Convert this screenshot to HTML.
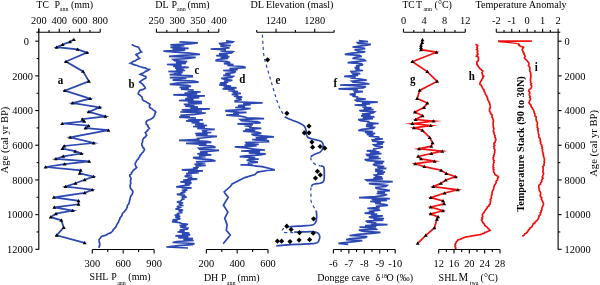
<!DOCTYPE html>
<html><head><meta charset="utf-8"><style>
html,body{margin:0;padding:0;background:#fff;overflow:hidden;}
svg{display:block;}
text{font-family:"Liberation Serif", serif;fill:#000;}
svg{will-change:transform;}
</style></head><body>
<svg width="600" height="285" viewBox="0 0 600 285">
<rect width="600" height="285" fill="#fff"/>
<line x1="38.80" y1="28.50" x2="38.80" y2="249.80" stroke="#000" stroke-width="1.1"/>
<line x1="36.30" y1="32.20" x2="38.80" y2="32.20" stroke="#000" stroke-width="1.1"/>
<line x1="35.30" y1="41.20" x2="38.80" y2="41.20" stroke="#000" stroke-width="1.1"/>
<text transform="translate(29.00,44.90) scale(1,1.07)" font-size="10.4" text-anchor="end" font-weight="normal" >0</text>
<line x1="36.60" y1="58.54" x2="38.80" y2="58.54" stroke="#000" stroke-width="1.1"/>
<line x1="35.30" y1="75.88" x2="38.80" y2="75.88" stroke="#000" stroke-width="1.1"/>
<text transform="translate(33.00,79.58) scale(1,1.07)" font-size="10.4" text-anchor="end" font-weight="normal" >2000</text>
<line x1="36.60" y1="93.23" x2="38.80" y2="93.23" stroke="#000" stroke-width="1.1"/>
<line x1="35.30" y1="110.57" x2="38.80" y2="110.57" stroke="#000" stroke-width="1.1"/>
<text transform="translate(33.00,114.27) scale(1,1.07)" font-size="10.4" text-anchor="end" font-weight="normal" >4000</text>
<line x1="36.60" y1="127.91" x2="38.80" y2="127.91" stroke="#000" stroke-width="1.1"/>
<line x1="35.30" y1="145.25" x2="38.80" y2="145.25" stroke="#000" stroke-width="1.1"/>
<text transform="translate(33.00,148.95) scale(1,1.07)" font-size="10.4" text-anchor="end" font-weight="normal" >6000</text>
<line x1="36.60" y1="162.59" x2="38.80" y2="162.59" stroke="#000" stroke-width="1.1"/>
<line x1="35.30" y1="179.93" x2="38.80" y2="179.93" stroke="#000" stroke-width="1.1"/>
<text transform="translate(33.00,183.63) scale(1,1.07)" font-size="10.4" text-anchor="end" font-weight="normal" >8000</text>
<line x1="36.60" y1="197.28" x2="38.80" y2="197.28" stroke="#000" stroke-width="1.1"/>
<line x1="35.30" y1="214.62" x2="38.80" y2="214.62" stroke="#000" stroke-width="1.1"/>
<text transform="translate(33.00,218.32) scale(1,1.07)" font-size="10.4" text-anchor="end" font-weight="normal" >10000</text>
<line x1="36.60" y1="231.96" x2="38.80" y2="231.96" stroke="#000" stroke-width="1.1"/>
<line x1="35.30" y1="249.30" x2="38.80" y2="249.30" stroke="#000" stroke-width="1.1"/>
<text transform="translate(33.00,253.00) scale(1,1.07)" font-size="10.4" text-anchor="end" font-weight="normal" >12000</text>
<text transform="translate(7.9,140) rotate(-90)" font-size="10.6" text-anchor="middle">Age (cal yr BP)</text>
<line x1="558.10" y1="32.20" x2="558.10" y2="249.80" stroke="#000" stroke-width="1.1"/>
<line x1="558.10" y1="32.20" x2="560.30" y2="32.20" stroke="#000" stroke-width="1.1"/>
<line x1="558.10" y1="41.20" x2="561.60" y2="41.20" stroke="#000" stroke-width="1.1"/>
<text transform="translate(564.60,44.90) scale(1,1.07)" font-size="10.4" text-anchor="start" font-weight="normal" >0</text>
<line x1="558.10" y1="58.54" x2="560.30" y2="58.54" stroke="#000" stroke-width="1.1"/>
<line x1="558.10" y1="75.88" x2="561.60" y2="75.88" stroke="#000" stroke-width="1.1"/>
<text transform="translate(564.60,79.58) scale(1,1.07)" font-size="10.4" text-anchor="start" font-weight="normal" >2000</text>
<line x1="558.10" y1="93.23" x2="560.30" y2="93.23" stroke="#000" stroke-width="1.1"/>
<line x1="558.10" y1="110.57" x2="561.60" y2="110.57" stroke="#000" stroke-width="1.1"/>
<text transform="translate(564.60,114.27) scale(1,1.07)" font-size="10.4" text-anchor="start" font-weight="normal" >4000</text>
<line x1="558.10" y1="127.91" x2="560.30" y2="127.91" stroke="#000" stroke-width="1.1"/>
<line x1="558.10" y1="145.25" x2="561.60" y2="145.25" stroke="#000" stroke-width="1.1"/>
<text transform="translate(564.60,148.95) scale(1,1.07)" font-size="10.4" text-anchor="start" font-weight="normal" >6000</text>
<line x1="558.10" y1="162.59" x2="560.30" y2="162.59" stroke="#000" stroke-width="1.1"/>
<line x1="558.10" y1="179.93" x2="561.60" y2="179.93" stroke="#000" stroke-width="1.1"/>
<text transform="translate(564.60,183.63) scale(1,1.07)" font-size="10.4" text-anchor="start" font-weight="normal" >8000</text>
<line x1="558.10" y1="197.28" x2="560.30" y2="197.28" stroke="#000" stroke-width="1.1"/>
<line x1="558.10" y1="214.62" x2="561.60" y2="214.62" stroke="#000" stroke-width="1.1"/>
<text transform="translate(564.60,218.32) scale(1,1.07)" font-size="10.4" text-anchor="start" font-weight="normal" >10000</text>
<line x1="558.10" y1="231.96" x2="560.30" y2="231.96" stroke="#000" stroke-width="1.1"/>
<line x1="558.10" y1="249.30" x2="561.60" y2="249.30" stroke="#000" stroke-width="1.1"/>
<text transform="translate(564.60,253.00) scale(1,1.07)" font-size="10.4" text-anchor="start" font-weight="normal" >12000</text>
<text transform="translate(597.4,143.4) rotate(-90)" font-size="10.6" text-anchor="middle">Age (cal yr BP)</text>
<line x1="38.80" y1="32.20" x2="100.20" y2="32.20" stroke="#000" stroke-width="1.1"/>
<line x1="38.80" y1="28.70" x2="38.80" y2="32.20" stroke="#000" stroke-width="1.1"/>
<line x1="49.03" y1="30.00" x2="49.03" y2="32.20" stroke="#000" stroke-width="1.1"/>
<line x1="59.27" y1="28.70" x2="59.27" y2="32.20" stroke="#000" stroke-width="1.1"/>
<line x1="69.50" y1="30.00" x2="69.50" y2="32.20" stroke="#000" stroke-width="1.1"/>
<line x1="79.73" y1="28.70" x2="79.73" y2="32.20" stroke="#000" stroke-width="1.1"/>
<line x1="89.97" y1="30.00" x2="89.97" y2="32.20" stroke="#000" stroke-width="1.1"/>
<line x1="100.20" y1="28.70" x2="100.20" y2="32.20" stroke="#000" stroke-width="1.1"/>
<text transform="translate(38.80,23.90) scale(1,1.07)" font-size="10.4" text-anchor="middle" font-weight="normal" >200</text>
<text transform="translate(59.27,23.90) scale(1,1.07)" font-size="10.4" text-anchor="middle" font-weight="normal" >400</text>
<text transform="translate(79.73,23.90) scale(1,1.07)" font-size="10.4" text-anchor="middle" font-weight="normal" >600</text>
<text transform="translate(100.20,23.90) scale(1,1.07)" font-size="10.4" text-anchor="middle" font-weight="normal" >800</text>
<line x1="156.40" y1="32.20" x2="218.80" y2="32.20" stroke="#000" stroke-width="1.1"/>
<line x1="156.40" y1="28.70" x2="156.40" y2="32.20" stroke="#000" stroke-width="1.1"/>
<line x1="166.80" y1="30.00" x2="166.80" y2="32.20" stroke="#000" stroke-width="1.1"/>
<line x1="177.20" y1="28.70" x2="177.20" y2="32.20" stroke="#000" stroke-width="1.1"/>
<line x1="187.60" y1="30.00" x2="187.60" y2="32.20" stroke="#000" stroke-width="1.1"/>
<line x1="198.00" y1="28.70" x2="198.00" y2="32.20" stroke="#000" stroke-width="1.1"/>
<line x1="208.40" y1="30.00" x2="208.40" y2="32.20" stroke="#000" stroke-width="1.1"/>
<line x1="218.80" y1="28.70" x2="218.80" y2="32.20" stroke="#000" stroke-width="1.1"/>
<text transform="translate(156.40,23.90) scale(1,1.07)" font-size="10.4" text-anchor="middle" font-weight="normal" >250</text>
<text transform="translate(177.20,23.90) scale(1,1.07)" font-size="10.4" text-anchor="middle" font-weight="normal" >300</text>
<text transform="translate(198.00,23.90) scale(1,1.07)" font-size="10.4" text-anchor="middle" font-weight="normal" >350</text>
<text transform="translate(218.80,23.90) scale(1,1.07)" font-size="10.4" text-anchor="middle" font-weight="normal" >400</text>
<line x1="256.70" y1="32.20" x2="334.10" y2="32.20" stroke="#000" stroke-width="1.1"/>
<line x1="256.70" y1="30.00" x2="256.70" y2="32.20" stroke="#000" stroke-width="1.1"/>
<line x1="276.05" y1="28.70" x2="276.05" y2="32.20" stroke="#000" stroke-width="1.1"/>
<line x1="295.40" y1="30.00" x2="295.40" y2="32.20" stroke="#000" stroke-width="1.1"/>
<line x1="314.75" y1="28.70" x2="314.75" y2="32.20" stroke="#000" stroke-width="1.1"/>
<line x1="334.10" y1="30.00" x2="334.10" y2="32.20" stroke="#000" stroke-width="1.1"/>
<text transform="translate(276.05,23.90) scale(1,1.07)" font-size="10.4" text-anchor="middle" font-weight="normal" >1240</text>
<text transform="translate(314.75,23.90) scale(1,1.07)" font-size="10.4" text-anchor="middle" font-weight="normal" >1280</text>
<line x1="403.50" y1="32.20" x2="465.30" y2="32.20" stroke="#000" stroke-width="1.1"/>
<line x1="403.50" y1="28.70" x2="403.50" y2="32.20" stroke="#000" stroke-width="1.1"/>
<line x1="413.80" y1="30.00" x2="413.80" y2="32.20" stroke="#000" stroke-width="1.1"/>
<line x1="424.10" y1="28.70" x2="424.10" y2="32.20" stroke="#000" stroke-width="1.1"/>
<line x1="434.40" y1="30.00" x2="434.40" y2="32.20" stroke="#000" stroke-width="1.1"/>
<line x1="444.70" y1="28.70" x2="444.70" y2="32.20" stroke="#000" stroke-width="1.1"/>
<line x1="455.00" y1="30.00" x2="455.00" y2="32.20" stroke="#000" stroke-width="1.1"/>
<line x1="465.30" y1="28.70" x2="465.30" y2="32.20" stroke="#000" stroke-width="1.1"/>
<text transform="translate(403.50,23.90) scale(1,1.07)" font-size="10.4" text-anchor="middle" font-weight="normal" >0</text>
<text transform="translate(424.10,23.90) scale(1,1.07)" font-size="10.4" text-anchor="middle" font-weight="normal" >4</text>
<text transform="translate(444.70,23.90) scale(1,1.07)" font-size="10.4" text-anchor="middle" font-weight="normal" >8</text>
<text transform="translate(465.30,23.90) scale(1,1.07)" font-size="10.4" text-anchor="middle" font-weight="normal" >12</text>
<line x1="496.30" y1="32.20" x2="558.10" y2="32.20" stroke="#000" stroke-width="1.1"/>
<line x1="496.30" y1="28.70" x2="496.30" y2="32.20" stroke="#000" stroke-width="1.1"/>
<line x1="504.03" y1="30.00" x2="504.03" y2="32.20" stroke="#000" stroke-width="1.1"/>
<line x1="511.75" y1="28.70" x2="511.75" y2="32.20" stroke="#000" stroke-width="1.1"/>
<line x1="519.48" y1="30.00" x2="519.48" y2="32.20" stroke="#000" stroke-width="1.1"/>
<line x1="527.20" y1="28.70" x2="527.20" y2="32.20" stroke="#000" stroke-width="1.1"/>
<line x1="534.93" y1="30.00" x2="534.93" y2="32.20" stroke="#000" stroke-width="1.1"/>
<line x1="542.65" y1="28.70" x2="542.65" y2="32.20" stroke="#000" stroke-width="1.1"/>
<line x1="550.38" y1="30.00" x2="550.38" y2="32.20" stroke="#000" stroke-width="1.1"/>
<line x1="558.10" y1="28.70" x2="558.10" y2="32.20" stroke="#000" stroke-width="1.1"/>
<text transform="translate(496.30,23.90) scale(1,1.07)" font-size="10.4" text-anchor="middle" font-weight="normal" >-2</text>
<text transform="translate(511.75,23.90) scale(1,1.07)" font-size="10.4" text-anchor="middle" font-weight="normal" >-1</text>
<text transform="translate(527.20,23.90) scale(1,1.07)" font-size="10.4" text-anchor="middle" font-weight="normal" >0</text>
<text transform="translate(542.65,23.90) scale(1,1.07)" font-size="10.4" text-anchor="middle" font-weight="normal" >1</text>
<text transform="translate(558.10,23.90) scale(1,1.07)" font-size="10.4" text-anchor="middle" font-weight="normal" >2</text>
<line x1="92.30" y1="249.50" x2="154.10" y2="249.50" stroke="#000" stroke-width="1.1"/>
<line x1="92.30" y1="249.50" x2="92.30" y2="253.40" stroke="#000" stroke-width="1.1"/>
<line x1="107.75" y1="249.50" x2="107.75" y2="251.90" stroke="#000" stroke-width="1.1"/>
<line x1="123.20" y1="249.50" x2="123.20" y2="253.40" stroke="#000" stroke-width="1.1"/>
<line x1="138.65" y1="249.50" x2="138.65" y2="251.90" stroke="#000" stroke-width="1.1"/>
<line x1="154.10" y1="249.50" x2="154.10" y2="253.40" stroke="#000" stroke-width="1.1"/>
<text transform="translate(92.30,267.00) scale(1,1.07)" font-size="10.4" text-anchor="middle" font-weight="normal" >300</text>
<text transform="translate(123.20,267.00) scale(1,1.07)" font-size="10.4" text-anchor="middle" font-weight="normal" >600</text>
<text transform="translate(154.10,267.00) scale(1,1.07)" font-size="10.4" text-anchor="middle" font-weight="normal" >900</text>
<line x1="206.40" y1="249.50" x2="268.00" y2="249.50" stroke="#000" stroke-width="1.1"/>
<line x1="206.40" y1="249.50" x2="206.40" y2="253.40" stroke="#000" stroke-width="1.1"/>
<line x1="221.80" y1="249.50" x2="221.80" y2="251.90" stroke="#000" stroke-width="1.1"/>
<line x1="237.20" y1="249.50" x2="237.20" y2="253.40" stroke="#000" stroke-width="1.1"/>
<line x1="252.60" y1="249.50" x2="252.60" y2="251.90" stroke="#000" stroke-width="1.1"/>
<line x1="268.00" y1="249.50" x2="268.00" y2="253.40" stroke="#000" stroke-width="1.1"/>
<text transform="translate(206.40,267.00) scale(1,1.07)" font-size="10.4" text-anchor="middle" font-weight="normal" >200</text>
<text transform="translate(237.20,267.00) scale(1,1.07)" font-size="10.4" text-anchor="middle" font-weight="normal" >400</text>
<text transform="translate(268.00,267.00) scale(1,1.07)" font-size="10.4" text-anchor="middle" font-weight="normal" >600</text>
<line x1="333.40" y1="249.50" x2="395.20" y2="249.50" stroke="#000" stroke-width="1.1"/>
<line x1="333.40" y1="249.50" x2="333.40" y2="253.40" stroke="#000" stroke-width="1.1"/>
<line x1="341.12" y1="249.50" x2="341.12" y2="251.90" stroke="#000" stroke-width="1.1"/>
<line x1="348.85" y1="249.50" x2="348.85" y2="253.40" stroke="#000" stroke-width="1.1"/>
<line x1="356.57" y1="249.50" x2="356.57" y2="251.90" stroke="#000" stroke-width="1.1"/>
<line x1="364.30" y1="249.50" x2="364.30" y2="253.40" stroke="#000" stroke-width="1.1"/>
<line x1="372.02" y1="249.50" x2="372.02" y2="251.90" stroke="#000" stroke-width="1.1"/>
<line x1="379.75" y1="249.50" x2="379.75" y2="253.40" stroke="#000" stroke-width="1.1"/>
<line x1="387.47" y1="249.50" x2="387.47" y2="251.90" stroke="#000" stroke-width="1.1"/>
<line x1="395.20" y1="249.50" x2="395.20" y2="253.40" stroke="#000" stroke-width="1.1"/>
<text transform="translate(333.40,267.00) scale(1,1.07)" font-size="10.4" text-anchor="middle" font-weight="normal" >-6</text>
<text transform="translate(348.85,267.00) scale(1,1.07)" font-size="10.4" text-anchor="middle" font-weight="normal" >-7</text>
<text transform="translate(364.30,267.00) scale(1,1.07)" font-size="10.4" text-anchor="middle" font-weight="normal" >-8</text>
<text transform="translate(379.75,267.00) scale(1,1.07)" font-size="10.4" text-anchor="middle" font-weight="normal" >-9</text>
<text transform="translate(395.20,267.00) scale(1,1.07)" font-size="10.4" text-anchor="middle" font-weight="normal" >-10</text>
<line x1="438.70" y1="249.50" x2="500.00" y2="249.50" stroke="#000" stroke-width="1.1"/>
<line x1="438.70" y1="249.50" x2="438.70" y2="253.40" stroke="#000" stroke-width="1.1"/>
<line x1="446.36" y1="249.50" x2="446.36" y2="251.90" stroke="#000" stroke-width="1.1"/>
<line x1="454.02" y1="249.50" x2="454.02" y2="253.40" stroke="#000" stroke-width="1.1"/>
<line x1="461.69" y1="249.50" x2="461.69" y2="251.90" stroke="#000" stroke-width="1.1"/>
<line x1="469.35" y1="249.50" x2="469.35" y2="253.40" stroke="#000" stroke-width="1.1"/>
<line x1="477.01" y1="249.50" x2="477.01" y2="251.90" stroke="#000" stroke-width="1.1"/>
<line x1="484.68" y1="249.50" x2="484.68" y2="253.40" stroke="#000" stroke-width="1.1"/>
<line x1="492.34" y1="249.50" x2="492.34" y2="251.90" stroke="#000" stroke-width="1.1"/>
<line x1="500.00" y1="249.50" x2="500.00" y2="253.40" stroke="#000" stroke-width="1.1"/>
<text transform="translate(438.70,267.00) scale(1,1.07)" font-size="10.4" text-anchor="middle" font-weight="normal" >12</text>
<text transform="translate(454.02,267.00) scale(1,1.07)" font-size="10.4" text-anchor="middle" font-weight="normal" >16</text>
<text transform="translate(469.35,267.00) scale(1,1.07)" font-size="10.4" text-anchor="middle" font-weight="normal" >20</text>
<text transform="translate(484.68,267.00) scale(1,1.07)" font-size="10.4" text-anchor="middle" font-weight="normal" >24</text>
<text transform="translate(500.00,267.00) scale(1,1.07)" font-size="10.4" text-anchor="middle" font-weight="normal" >28</text>
<text transform="translate(36.60,7.80) scale(1,1.07)" font-size="9.6">TC</text>
<text transform="translate(54.60,7.80) scale(1,1.07)" font-size="10">P</text>
<text transform="translate(59.80,11.00) scale(1,1.07)" font-size="6.0">ann</text>
<text transform="translate(71.00,7.80) scale(1,1.07)" font-size="10">(mm)</text>
<text transform="translate(155.20,7.80) scale(1,1.07)" font-size="10">DL</text>
<text transform="translate(171.40,7.80) scale(1,1.07)" font-size="10">P</text>
<text transform="translate(177.00,11.00) scale(1,1.07)" font-size="6.0">ann</text>
<text transform="translate(187.40,7.80) scale(1,1.07)" font-size="10">(mm)</text>
<text transform="translate(250.40,7.80) scale(1,1.07)" font-size="10.15">DL Elevation (masl)</text>
<text transform="translate(402.40,7.80) scale(1,1.07)" font-size="9.6">TC</text>
<text transform="translate(416.00,7.80) scale(1,1.07)" font-size="10">T</text>
<text transform="translate(423.40,11.00) scale(1,1.07)" font-size="6.0">ann</text>
<text transform="translate(434.60,7.80) scale(1,1.07)" font-size="10">(°C)</text>
<text transform="translate(475.40,7.80) scale(1,1.07)" font-size="10.2">Temperature Anomaly</text>
<text transform="translate(89.60,280.20) scale(1,1.07)" font-size="10">SHL</text>
<text transform="translate(111.30,280.20) scale(1,1.07)" font-size="10">P</text>
<text transform="translate(117.20,284.60) scale(1,1.07)" font-size="6.0">ann</text>
<text transform="translate(128.30,280.20) scale(1,1.07)" font-size="10">(mm)</text>
<text transform="translate(203.90,281.20) scale(1,1.07)" font-size="10">DH</text>
<text transform="translate(220.90,281.20) scale(1,1.07)" font-size="10">P</text>
<text transform="translate(226.80,284.80) scale(1,1.07)" font-size="6.0">ann</text>
<text transform="translate(237.50,281.20) scale(1,1.07)" font-size="10">(mm)</text>
<text transform="translate(317.30,281.20) scale(1,1.07)" font-size="10">Dongge cave</text>
<text transform="translate(375.60,281.20) scale(1,1.07)" font-size="10">δ</text>
<text transform="translate(381.00,277.60) scale(1,1.07)" font-size="6">18</text>
<text transform="translate(386.40,281.20) scale(1,1.07)" font-size="10">O</text>
<text transform="translate(396.40,281.20) scale(1,1.07)" font-size="10">(‰)</text>
<text transform="translate(438.60,281.20) scale(1,1.07)" font-size="10">SHL</text>
<text transform="translate(458.60,281.20) scale(1,1.07)" font-size="10.8">M</text>
<text transform="translate(469.80,284.80) scale(1,1.07)" font-size="6.0">twa</text>
<text transform="translate(480.60,281.20) scale(1,1.07)" font-size="10">(°C)</text>
<polyline points="73.90,39.50 70.00,41.80 62.60,44.60 56.70,47.20 77.60,49.40 87.00,52.60 66.00,61.50 83.00,71.40 88.90,81.40 64.90,90.60 90.10,98.60 72.60,103.10 99.70,107.40 88.80,111.90 105.30,116.40 82.40,119.20 84.20,121.30 62.20,123.50 88.50,125.70 85.60,128.10 108.50,130.20 70.20,137.30 93.60,143.00 64.20,146.00 62.50,148.60 75.10,151.20 81.20,153.50 63.20,156.30 55.90,158.90 89.20,161.40 64.60,164.10 45.60,167.00 80.70,170.30 79.70,173.40 93.40,176.60 84.70,179.80 75.50,183.30 65.60,186.60 92.20,189.70 84.70,192.80 53.90,197.30 78.50,200.80 78.50,204.30 54.30,207.30 72.70,210.60 56.00,213.70 50.80,217.10 61.30,220.30 63.70,227.60 56.60,235.30 84.70,242.90" fill="none" stroke="#2a47b2" stroke-width="1.75" stroke-linejoin="miter" stroke-miterlimit="6" stroke-linecap="butt" />
<path d="M73.90,37.70 L75.88,40.94 L71.92,40.94Z" fill="#000"/>
<path d="M70.00,40.00 L71.98,43.24 L68.02,43.24Z" fill="#000"/>
<path d="M62.60,42.80 L64.58,46.04 L60.62,46.04Z" fill="#000"/>
<path d="M56.70,45.40 L58.68,48.64 L54.72,48.64Z" fill="#000"/>
<path d="M77.60,47.60 L79.58,50.84 L75.62,50.84Z" fill="#000"/>
<path d="M87.00,50.80 L88.98,54.04 L85.02,54.04Z" fill="#000"/>
<path d="M66.00,59.70 L67.98,62.94 L64.02,62.94Z" fill="#000"/>
<path d="M83.00,69.60 L84.98,72.84 L81.02,72.84Z" fill="#000"/>
<path d="M88.90,79.60 L90.88,82.84 L86.92,82.84Z" fill="#000"/>
<path d="M64.90,88.80 L66.88,92.04 L62.92,92.04Z" fill="#000"/>
<path d="M90.10,96.80 L92.08,100.04 L88.12,100.04Z" fill="#000"/>
<path d="M72.60,101.30 L74.58,104.54 L70.62,104.54Z" fill="#000"/>
<path d="M99.70,105.60 L101.68,108.84 L97.72,108.84Z" fill="#000"/>
<path d="M88.80,110.10 L90.78,113.34 L86.82,113.34Z" fill="#000"/>
<path d="M105.30,114.60 L107.28,117.84 L103.32,117.84Z" fill="#000"/>
<path d="M82.40,117.40 L84.38,120.64 L80.42,120.64Z" fill="#000"/>
<path d="M84.20,119.50 L86.18,122.74 L82.22,122.74Z" fill="#000"/>
<path d="M62.20,121.70 L64.18,124.94 L60.22,124.94Z" fill="#000"/>
<path d="M88.50,123.90 L90.48,127.14 L86.52,127.14Z" fill="#000"/>
<path d="M85.60,126.30 L87.58,129.54 L83.62,129.54Z" fill="#000"/>
<path d="M108.50,128.40 L110.48,131.64 L106.52,131.64Z" fill="#000"/>
<path d="M70.20,135.50 L72.18,138.74 L68.22,138.74Z" fill="#000"/>
<path d="M93.60,141.20 L95.58,144.44 L91.62,144.44Z" fill="#000"/>
<path d="M64.20,144.20 L66.18,147.44 L62.22,147.44Z" fill="#000"/>
<path d="M62.50,146.80 L64.48,150.04 L60.52,150.04Z" fill="#000"/>
<path d="M75.10,149.40 L77.08,152.64 L73.12,152.64Z" fill="#000"/>
<path d="M81.20,151.70 L83.18,154.94 L79.22,154.94Z" fill="#000"/>
<path d="M63.20,154.50 L65.18,157.74 L61.22,157.74Z" fill="#000"/>
<path d="M55.90,157.10 L57.88,160.34 L53.92,160.34Z" fill="#000"/>
<path d="M89.20,159.60 L91.18,162.84 L87.22,162.84Z" fill="#000"/>
<path d="M64.60,162.30 L66.58,165.54 L62.62,165.54Z" fill="#000"/>
<path d="M45.60,165.20 L47.58,168.44 L43.62,168.44Z" fill="#000"/>
<path d="M80.70,168.50 L82.68,171.74 L78.72,171.74Z" fill="#000"/>
<path d="M79.70,171.60 L81.68,174.84 L77.72,174.84Z" fill="#000"/>
<path d="M93.40,174.80 L95.38,178.04 L91.42,178.04Z" fill="#000"/>
<path d="M84.70,178.00 L86.68,181.24 L82.72,181.24Z" fill="#000"/>
<path d="M75.50,181.50 L77.48,184.74 L73.52,184.74Z" fill="#000"/>
<path d="M65.60,184.80 L67.58,188.04 L63.62,188.04Z" fill="#000"/>
<path d="M92.20,187.90 L94.18,191.14 L90.22,191.14Z" fill="#000"/>
<path d="M84.70,191.00 L86.68,194.24 L82.72,194.24Z" fill="#000"/>
<path d="M53.90,195.50 L55.88,198.74 L51.92,198.74Z" fill="#000"/>
<path d="M78.50,199.00 L80.48,202.24 L76.52,202.24Z" fill="#000"/>
<path d="M78.50,202.50 L80.48,205.74 L76.52,205.74Z" fill="#000"/>
<path d="M54.30,205.50 L56.28,208.74 L52.32,208.74Z" fill="#000"/>
<path d="M72.70,208.80 L74.68,212.04 L70.72,212.04Z" fill="#000"/>
<path d="M56.00,211.90 L57.98,215.14 L54.02,215.14Z" fill="#000"/>
<path d="M50.80,215.30 L52.78,218.54 L48.82,218.54Z" fill="#000"/>
<path d="M61.30,218.50 L63.28,221.74 L59.32,221.74Z" fill="#000"/>
<path d="M63.70,225.80 L65.68,229.04 L61.72,229.04Z" fill="#000"/>
<path d="M56.60,233.50 L58.58,236.74 L54.62,236.74Z" fill="#000"/>
<path d="M84.70,241.10 L86.68,244.34 L82.72,244.34Z" fill="#000"/>
<text transform="translate(60.40,84.20) scale(1,1.07)" font-size="11" text-anchor="middle" font-weight="bold" >a</text>
<polyline points="131.80,44.20 132.43,44.90 133.71,45.60 135.30,46.30 136.58,46.65 138.10,47.00 139.00,48.05 139.50,49.10 140.15,50.50 141.60,51.90 140.05,52.46 139.06,53.02 138.52,53.58 136.73,54.14 136.00,54.70 137.14,55.60 137.93,56.50 138.23,57.40 139.50,58.30 138.40,58.91 137.17,59.52 135.99,60.14 135.50,60.75 133.36,61.36 132.15,61.98 132.02,62.59 130.40,63.20 131.58,63.67 132.64,64.13 134.06,64.60 135.38,65.07 137.32,65.53 138.10,66.00 139.03,66.39 140.28,66.78 141.93,67.17 143.13,67.56 144.82,67.94 145.94,68.33 146.65,68.72 147.73,69.11 149.30,69.50 148.53,70.11 147.56,70.72 145.37,71.34 145.01,71.95 144.02,72.56 142.64,73.18 141.03,73.79 140.20,74.40 141.93,74.93 143.25,75.45 144.06,75.97 145.80,76.50 146.00,77.80 145.10,78.50 143.59,79.20 142.35,79.90 141.62,80.60 140.57,81.30 139.70,82.00 140.99,83.05 142.50,84.10 143.36,85.15 144.27,86.20 145.11,87.25 145.30,88.30 144.42,88.83 143.04,89.35 141.42,89.88 139.70,90.40 139.02,91.60 138.41,92.80 138.30,94.00 139.60,94.93 140.68,95.87 141.80,96.80 142.34,98.20 142.50,99.60 143.10,100.30 144.26,101.00 146.11,101.70 146.70,102.40 147.98,103.10 149.25,103.80 150.20,104.50 149.41,105.90 149.50,107.30 150.44,108.08 152.05,108.85 152.81,109.62 153.70,110.40 155.29,111.25 155.80,112.10 155.00,113.27 154.82,114.43 154.40,115.60 153.68,117.00 152.30,118.40 151.01,118.93 150.17,119.45 148.69,119.97 147.40,120.50 146.28,121.90 146.00,123.30 146.26,124.30 147.93,125.30 147.68,126.30 148.46,127.30 149.50,128.30 148.27,129.35 147.63,130.40 146.74,131.45 145.30,132.50 145.97,133.90 146.70,135.30 145.82,136.18 145.27,137.05 143.83,137.93 143.20,138.80 142.71,140.03 142.62,141.25 142.30,142.47 141.80,143.70 141.81,144.94 142.41,146.18 142.96,147.42 144.13,148.66 144.40,149.90 143.68,151.07 143.05,152.23 141.60,153.40 141.19,154.45 139.93,155.50 139.79,156.55 138.80,157.60 138.28,159.00 136.70,160.40 136.07,161.83 135.23,163.27 135.30,164.70 135.86,166.10 136.70,167.50 135.41,168.55 134.24,169.60 133.05,170.65 132.50,171.70 131.39,172.75 131.50,173.80 129.90,174.85 129.70,175.90 130.53,177.30 131.10,178.70 130.60,180.10 130.41,181.50 130.93,182.90 130.40,184.30 130.08,185.65 130.20,187.00 130.55,188.25 131.55,189.50 132.51,190.75 133.00,192.00 132.47,193.12 132.28,194.24 131.21,195.36 130.79,196.48 130.20,197.60 130.16,198.86 129.60,200.12 129.60,201.38 129.04,202.64 128.80,203.90 127.81,204.95 127.22,206.00 127.36,207.05 126.74,208.10 126.37,209.15 125.30,210.20 124.73,211.20 123.84,212.20 122.61,213.20 122.20,214.20 121.89,215.60 120.80,217.00 119.86,218.22 119.67,219.45 118.83,220.68 118.70,221.90 117.87,223.04 117.09,224.18 116.52,225.32 116.13,226.46 115.20,227.60 114.41,228.58 113.24,229.56 112.99,230.54 112.10,231.52 111.00,232.50 110.13,233.12 108.04,233.75 107.45,234.38 106.10,235.00 105.31,235.43 103.38,235.85 102.10,236.27 101.20,236.70 100.45,238.10 99.00,239.50 99.08,240.90 99.36,242.30 99.70,243.70 99.82,245.10 99.11,246.50 99.00,247.90" fill="none" stroke="#2a47b2" stroke-width="1.7" stroke-linejoin="miter" stroke-miterlimit="4" stroke-linecap="butt" />
<text transform="translate(131.50,87.50) scale(1,1.07)" font-size="11" text-anchor="middle" font-weight="bold" >b</text>
<polyline points="179.50,41.80 197.80,42.80 189.40,43.80 170.40,44.80 184.45,45.63 176.24,46.47 170.40,47.30 188.70,48.30 172.47,49.20 185.20,50.10 163.40,51.10 176.00,52.20 189.40,53.20 199.90,54.30 181.60,55.30 169.00,56.40 195.70,57.40 188.70,58.50 173.20,59.50 174.60,60.60 187.30,61.60 175.93,62.55 185.90,63.50 166.90,64.50 181.58,65.40 173.20,66.30 188.70,67.30 175.09,68.10 183.67,68.90 176.01,69.70 185.20,70.50 168.30,71.50 182.63,72.30 173.91,73.10 181.54,73.90 169.70,74.70 192.20,75.70 192.30,76.60 169.80,77.60 186.27,78.43 179.66,79.27 172.60,80.10 193.70,81.10 198.60,82.20 176.80,83.20 169.80,84.30 188.00,85.30 190.90,86.40 179.60,87.40 188.70,88.30 181.00,89.20 193.70,90.20 187.58,91.10 200.70,92.00 184.50,93.00 197.26,93.90 173.30,94.80 204.90,95.80 186.87,96.70 199.30,97.60 185.20,98.60 193.54,99.55 178.90,100.50 202.00,101.50 187.75,102.40 202.00,103.30 183.80,104.30 194.46,105.20 185.20,106.10 197.90,107.10 190.41,108.00 209.80,108.90 181.70,109.90 202.04,110.95 180.30,112.00 205.70,113.00 195.20,114.30 180.40,115.30 189.86,116.20 179.00,117.10 195.90,118.10 187.98,119.00 202.90,119.90 186.00,120.90 199.45,121.80 191.60,122.70 203.60,123.70 194.98,124.60 207.00,125.50 193.00,126.50 204.89,127.40 197.30,128.30 214.80,129.30 201.76,130.10 207.15,130.90 202.21,131.70 211.30,132.50 195.20,133.50 207.61,134.40 195.90,135.30 216.90,136.30 207.00,137.50 196.60,138.50 199.45,139.40 179.00,140.30 207.00,141.30 211.30,142.40 186.00,143.40 206.44,144.30 198.70,145.20 212.70,146.20 215.50,147.30 198.70,148.30 200.00,149.40 219.00,150.40 214.10,151.00 200.00,152.00 207.53,152.90 197.30,153.80 211.30,154.80 199.07,155.70 205.70,156.60 193.00,157.60 196.60,158.70 210.60,159.70 215.50,160.80 195.90,161.80 205.26,162.63 200.57,163.47 194.50,164.30 205.70,165.30 195.61,166.20 198.70,167.10 193.00,168.10 197.74,169.00 181.80,169.90 202.90,170.90 188.05,171.80 198.70,172.70 186.00,173.70 191.92,174.57 187.93,175.43 184.60,176.30 192.30,177.30 187.51,178.20 197.30,179.10 183.20,180.10 191.12,181.00 180.40,181.90 191.60,182.90 184.83,183.80 190.20,184.70 183.90,185.70 176.20,186.80 191.60,187.80 181.89,188.57 186.31,189.33 186.60,190.10 183.10,191.10 184.55,191.90 181.87,192.70 182.95,193.50 176.80,194.30 185.20,195.30 181.76,196.20 186.60,197.10 182.40,198.10 183.64,199.07 181.59,200.05 180.80,201.03 176.80,202.00 183.10,203.00 178.86,203.83 181.29,204.67 182.40,205.50 176.80,206.50 180.23,207.33 178.71,208.17 175.40,209.00 183.10,210.00 178.62,210.83 180.62,211.67 182.40,212.50 176.80,213.50 179.39,214.45 174.70,215.40 180.30,216.40 175.46,217.23 177.72,218.07 180.30,218.90 172.60,219.90 177.48,220.80 171.90,221.70 179.60,222.70 181.71,223.50 188.00,224.30 179.60,225.30 186.28,226.20 180.30,227.10 188.00,228.10 187.30,229.20 179.60,230.20 184.66,231.10 177.50,232.00 189.50,233.00 181.92,233.90 190.20,234.80 175.40,235.80 188.36,236.70 178.20,237.60 193.00,238.60 183.33,239.55 193.70,240.50 176.80,241.50 172.60,242.50 194.40,243.50 192.30,244.70 178.20,245.70 166.30,247.00 188.00,248.00" fill="none" stroke="#2a47b2" stroke-width="1.7" stroke-linejoin="miter" stroke-miterlimit="3" stroke-linecap="butt" />
<text transform="translate(197.00,74.40) scale(1,1.07)" font-size="11" text-anchor="middle" font-weight="bold" >c</text>
<polyline points="226.00,40.90 233.00,41.90 232.30,42.40 219.70,43.40 220.40,44.50 231.00,45.50 220.35,46.33 226.43,47.17 229.50,48.00 210.60,49.00 225.95,49.90 220.40,50.80 233.00,51.80 231.60,52.90 219.00,53.90 227.76,54.80 216.20,55.70 229.50,56.70 220.62,57.60 228.10,58.50 217.60,59.50 215.50,60.60 227.40,61.60 230.20,62.70 223.90,63.70 233.53,64.60 227.40,65.50 242.90,66.50 245.70,67.70 229.50,68.70 237.73,69.60 223.20,70.50 235.90,71.50 233.80,72.60 225.30,73.60 230.59,74.50 223.20,75.40 233.00,76.40 231.70,77.30 221.20,78.30 224.70,79.40 232.40,80.40 223.92,81.30 228.20,82.20 219.80,83.20 226.65,84.10 219.10,85.00 231.00,86.00 223.63,86.90 236.60,87.80 222.60,88.80 234.69,89.70 228.20,90.60 238.00,91.60 232.70,92.50 240.90,93.40 231.70,94.40 238.29,95.30 233.80,96.20 242.30,97.20 236.07,98.03 240.09,98.87 241.60,99.70 235.20,100.70 235.20,101.80 262.60,102.80 243.25,103.75 250.70,104.70 238.00,105.70 245.07,106.60 235.20,107.50 250.70,108.50 242.30,109.60 225.40,110.60 226.20,111.10 238.80,112.10 246.60,112.40 233.20,113.40 239.00,114.25 226.20,115.10 240.20,116.10 244.27,116.93 246.84,117.77 264.10,118.60 240.20,119.60 241.60,120.70 257.10,121.70 260.60,122.80 237.40,123.80 252.88,124.70 244.50,125.60 251.50,126.60 249.24,127.50 261.30,128.40 245.20,129.40 255.26,130.30 243.00,131.20 257.10,132.20 261.30,133.30 251.50,134.30 254.30,135.40 268.30,136.40 273.90,136.80 255.70,137.80 267.15,138.75 252.20,139.70 268.30,140.70 268.50,141.60 246.00,142.60 246.70,143.40 258.70,144.40 244.55,145.10 256.60,145.80 234.80,146.80 246.00,147.90 253.00,148.90 265.00,150.00 241.10,151.00 259.95,151.90 248.80,152.80 265.70,153.80 260.10,154.90 246.00,155.90 239.70,156.60 255.20,157.60 248.31,158.35 258.70,159.10 246.70,160.10 250.20,161.20 258.00,162.20 247.73,163.10 253.00,164.00 240.40,165.00 246.30,165.00 262.10,166.60 274.80,169.80 266.90,170.50 257.40,172.10 255.00,174.50 244.80,177.60 232.10,184.00 230.50,186.30 224.20,191.90 225.00,193.40 228.20,197.40 223.40,205.30 227.90,212.10 224.70,218.40 227.10,224.70 226.30,230.30 230.30,235.00 223.20,243.70" fill="none" stroke="#2a47b2" stroke-width="1.7" stroke-linejoin="miter" stroke-miterlimit="3" stroke-linecap="butt" />
<text transform="translate(242.20,83.40) scale(1,1.07)" font-size="11" text-anchor="middle" font-weight="bold" >d</text>
<polyline points="358.80,40.60 368.00,41.60 365.90,41.70 357.40,42.70 358.10,43.40 370.80,44.40 367.30,45.20 359.50,46.20 352.50,47.00 363.00,48.00 365.20,48.70 354.60,49.70 357.40,50.80 365.20,51.80 363.80,52.20 351.80,53.20 344.80,54.30 359.50,55.30 361.60,56.40 355.30,57.40 352.50,58.50 363.80,59.50 365.20,60.60 356.00,61.60 347.60,62.70 361.00,63.70 363.00,64.80 356.00,65.80 359.49,66.75 354.60,67.70 359.50,68.70 355.52,69.60 363.00,70.50 351.10,71.50 351.80,72.60 360.20,73.60 352.36,74.50 358.10,75.40 344.10,76.40 355.61,77.20 350.40,78.00 360.20,79.00 366.60,80.10 351.80,81.10 353.20,82.20 364.50,83.20 369.40,84.00 339.90,85.00 353.20,85.70 365.90,86.70 363.00,87.80 338.50,88.80 357.74,89.70 353.20,90.60 363.00,91.60 354.05,92.50 356.00,93.40 349.70,94.40 355.63,95.30 352.50,96.20 358.10,97.20 356.15,98.10 365.90,99.00 354.60,100.00 357.40,101.10 377.80,102.10 361.96,103.05 370.10,104.00 354.60,105.00 366.27,105.90 362.30,106.80 371.50,107.80 363.73,108.70 373.60,109.60 360.20,110.60 360.40,110.90 374.50,111.90 373.00,113.00 361.80,114.00 370.51,114.90 361.10,115.80 374.50,116.80 362.78,117.70 373.00,118.60 358.30,119.60 360.40,120.70 369.50,121.70 367.23,122.60 378.70,123.50 366.00,124.50 373.17,125.40 366.00,126.30 375.20,127.30 373.00,128.40 361.80,129.40 358.30,130.50 373.00,131.50 364.92,132.40 375.20,133.30 366.70,134.30 373.42,135.20 368.80,136.10 379.40,137.10 374.82,138.05 382.90,139.00 372.30,140.00 373.00,141.10 384.30,142.10 376.84,143.00 382.90,143.90 373.80,144.90 375.20,145.90 382.90,146.90 380.00,148.00 373.00,149.00 376.46,149.90 366.70,150.80 379.40,151.80 369.90,152.70 381.50,153.60 366.70,154.60 367.40,155.70 378.70,156.70 368.79,157.60 380.80,158.50 364.60,159.50 367.40,160.60 384.30,161.60 374.37,162.50 382.90,163.40 373.00,164.40 375.20,165.50 384.30,166.50 377.36,167.40 386.40,168.30 375.20,169.30 383.18,170.20 375.20,171.10 385.00,172.10 377.22,173.05 383.60,174.00 374.50,175.00 375.90,176.10 382.20,177.10 373.34,178.00 382.90,178.90 366.00,179.90 367.00,180.70 392.70,181.70 384.60,182.70 368.80,183.70 374.50,184.40 387.10,185.40 385.70,186.50 375.20,187.50 377.30,188.60 385.00,189.60 389.90,190.70 377.30,191.70 385.06,192.60 376.60,193.50 387.10,194.50 383.60,195.60 375.20,196.60 359.00,197.70 389.90,198.70 371.59,199.60 387.10,200.50 370.20,201.50 380.80,202.40 375.20,203.30 384.30,204.30 387.80,205.40 375.90,206.40 379.67,207.35 367.40,208.30 378.70,209.30 379.40,210.40 368.80,211.40 374.45,212.30 364.60,213.20 377.30,214.20 370.84,215.00 382.80,215.80 369.00,216.80 370.50,217.70 384.00,218.70 373.41,219.40 383.30,220.10 365.80,221.10 367.90,222.20 376.30,223.20 371.06,223.90 387.50,224.60 365.10,225.60 376.32,226.35 359.50,227.10 374.90,228.10 376.30,229.20 358.80,230.20 363.70,231.30 380.50,232.30 372.10,233.40 358.00,234.40 349.60,235.50 367.20,236.50 365.10,237.60 351.00,238.60 346.10,239.70 362.30,240.70 352.40,241.80 341.90,242.80 338.40,243.30 348.20,244.30" fill="none" stroke="#2a47b2" stroke-width="1.7" stroke-linejoin="miter" stroke-miterlimit="3" stroke-linecap="butt" />
<text transform="translate(335.40,87.20) scale(1,1.07)" font-size="11" text-anchor="middle" font-weight="bold" >f</text>
<path d="M262.40,34.60 C262.50,36.33 262.77,41.60 263.00,45.00 C263.23,48.40 263.42,52.20 263.80,55.00 C264.18,57.80 264.48,58.75 265.30,61.80 C266.12,64.85 267.57,69.48 268.70,73.30 C269.83,77.12 270.97,80.90 272.10,84.70 C273.23,88.50 274.35,92.48 275.50,96.10 C276.65,99.72 277.92,103.73 279.00,106.40 C280.08,109.07 281.13,110.63 282.00,112.10 C282.87,113.57 283.83,114.68 284.20,115.20" fill="none" stroke="#2a47b2" stroke-width="1.2" stroke-linejoin="round" stroke-dasharray="3.1,3.0"/>
<path d="M284.70,116.70 C285.33,117.05 286.70,118.02 288.50,118.80 C290.30,119.58 293.45,120.58 295.50,121.40 C297.55,122.22 299.33,122.92 300.80,123.70 C302.27,124.48 303.42,125.02 304.30,126.10 C305.18,127.18 305.75,128.78 306.10,130.20 C306.45,131.62 306.12,133.43 306.40,134.60 C306.68,135.77 306.83,136.47 307.80,137.20 C308.77,137.93 310.58,138.50 312.20,139.00 C313.82,139.50 315.95,139.77 317.50,140.20 C319.05,140.63 320.53,140.78 321.50,141.60 C322.47,142.42 323.10,143.93 323.30,145.10 C323.50,146.27 323.23,147.43 322.70,148.60 C322.17,149.77 321.42,151.17 320.10,152.10 C318.78,153.03 316.20,153.55 314.80,154.20 C313.40,154.85 312.33,155.53 311.70,156.00 C311.07,156.47 311.12,156.83 311.00,157.00" fill="none" stroke="#2a47b2" stroke-width="1.7" stroke-linejoin="round" />
<path d="M311.00,157.50 C310.97,157.70 310.57,157.98 310.80,158.70 C311.03,159.42 311.48,160.75 312.40,161.80 C313.32,162.85 314.98,164.33 316.30,165.00 C317.62,165.67 319.63,165.67 320.30,165.80" fill="none" stroke="#2a47b2" stroke-width="1.2" stroke-linejoin="round" stroke-dasharray="3.1,3.0"/>
<path d="M320.50,165.80 C320.98,165.93 322.78,166.07 323.40,166.60 C324.02,167.13 324.05,167.77 324.20,169.00 C324.35,170.23 324.30,172.43 324.30,174.00 C324.30,175.57 324.35,177.13 324.20,178.40 C324.05,179.67 324.05,180.80 323.40,181.60 C322.75,182.40 321.75,182.80 320.30,183.20 C318.85,183.60 316.02,183.73 314.70,184.00 C313.38,184.27 312.97,184.35 312.40,184.80 C311.83,185.25 311.48,186.38 311.30,186.70" fill="none" stroke="#2a47b2" stroke-width="1.7" stroke-linejoin="round" />
<path d="M311.10,187.50 C311.05,187.92 310.82,189.05 310.80,190.00 C310.78,190.95 310.97,191.45 311.00,193.20 C311.03,194.95 310.63,198.40 311.00,200.50 C311.37,202.60 312.38,204.22 313.20,205.80 C314.02,207.38 315.45,209.30 315.90,210.00" fill="none" stroke="#2a47b2" stroke-width="1.2" stroke-linejoin="round" stroke-dasharray="3.1,3.0"/>
<path d="M316.10,210.50 C316.17,210.92 316.40,211.85 316.50,213.00 C316.60,214.15 316.80,215.97 316.70,217.40 C316.60,218.83 316.48,220.38 315.90,221.60 C315.32,222.82 315.23,224.00 313.20,224.70 C311.17,225.40 307.03,225.52 303.70,225.80 C300.37,226.08 295.48,226.23 293.20,226.40 C290.92,226.57 290.53,226.73 290.00,226.80" fill="none" stroke="#2a47b2" stroke-width="1.7" stroke-linejoin="round" />
<path d="M290.00,226.80 C289.47,226.92 287.97,227.13 286.80,227.50 C285.63,227.87 283.77,228.42 283.00,229.00 C282.23,229.58 281.92,230.42 282.20,231.00 C282.48,231.58 282.87,232.22 284.70,232.50 C286.53,232.78 291.78,232.67 293.20,232.70" fill="none" stroke="#2a47b2" stroke-width="1.2" stroke-linejoin="round" stroke-dasharray="3.1,3.0"/>
<path d="M294.20,232.20 C295.67,232.15 300.02,231.98 303.00,231.90 C305.98,231.82 309.70,231.57 312.10,231.70 C314.50,231.83 316.17,232.10 317.40,232.70 C318.63,233.30 319.15,234.28 319.50,235.30 C319.85,236.32 319.85,237.58 319.50,238.80 C319.15,240.02 318.63,241.78 317.40,242.60 C316.17,243.42 315.00,243.42 312.10,243.70 C309.20,243.98 303.50,244.13 300.00,244.30 C296.50,244.47 295.05,244.45 291.10,244.70 C287.15,244.95 278.77,245.62 276.30,245.80" fill="none" stroke="#2a47b2" stroke-width="1.7" stroke-linejoin="round" />
<path d="M267.60,57.20 L270.20,59.80 L267.60,62.40 L265.00,59.80Z" fill="#000"/>
<path d="M286.90,110.70 L289.50,113.30 L286.90,115.90 L284.30,113.30Z" fill="#000"/>
<path d="M309.00,123.50 L311.60,126.10 L309.00,128.70 L306.40,126.10Z" fill="#000"/>
<path d="M304.30,130.20 L306.90,132.80 L304.30,135.40 L301.70,132.80Z" fill="#000"/>
<path d="M309.00,130.20 L311.60,132.80 L309.00,135.40 L306.40,132.80Z" fill="#000"/>
<path d="M311.90,139.50 L314.50,142.10 L311.90,144.70 L309.30,142.10Z" fill="#000"/>
<path d="M312.60,144.60 L315.20,147.20 L312.60,149.80 L310.00,147.20Z" fill="#000"/>
<path d="M320.10,143.90 L322.70,146.50 L320.10,149.10 L317.50,146.50Z" fill="#000"/>
<path d="M324.80,145.60 L327.40,148.20 L324.80,150.80 L322.20,148.20Z" fill="#000"/>
<path d="M317.40,168.70 L320.00,171.30 L317.40,173.90 L314.80,171.30Z" fill="#000"/>
<path d="M320.30,172.30 L322.90,174.90 L320.30,177.50 L317.70,174.90Z" fill="#000"/>
<path d="M315.50,175.50 L318.10,178.10 L315.50,180.70 L312.90,178.10Z" fill="#000"/>
<path d="M313.60,216.20 L316.20,218.80 L313.60,221.40 L311.00,218.80Z" fill="#000"/>
<path d="M286.80,223.60 L289.40,226.20 L286.80,228.80 L284.20,226.20Z" fill="#000"/>
<path d="M291.10,227.00 L293.70,229.60 L291.10,232.20 L288.50,229.60Z" fill="#000"/>
<path d="M299.50,230.10 L302.10,232.70 L299.50,235.30 L296.90,232.70Z" fill="#000"/>
<path d="M313.20,230.60 L315.80,233.20 L313.20,235.80 L310.60,233.20Z" fill="#000"/>
<path d="M277.40,238.60 L280.00,241.20 L277.40,243.80 L274.80,241.20Z" fill="#000"/>
<path d="M281.60,238.60 L284.20,241.20 L281.60,243.80 L279.00,241.20Z" fill="#000"/>
<path d="M290.00,239.00 L292.60,241.60 L290.00,244.20 L287.40,241.60Z" fill="#000"/>
<path d="M299.10,237.50 L301.70,240.10 L299.10,242.70 L296.50,240.10Z" fill="#000"/>
<path d="M309.60,237.10 L312.20,239.70 L309.60,242.30 L307.00,239.70Z" fill="#000"/>
<text transform="translate(278.00,83.50) scale(1,1.07)" font-size="11" text-anchor="middle" font-weight="bold" >e</text>
<polyline points="422.50,39.80 422.20,42.60 421.00,45.40 421.00,47.60 421.00,49.70 436.50,52.20 412.40,61.60 427.30,71.60 437.10,81.40 419.70,90.40 417.20,98.50 427.40,103.10 424.00,107.50 414.90,112.00 422.60,115.80 415.70,119.50 433.60,121.10 412.40,123.60 430.70,125.50 413.90,127.80 422.40,130.30 429.70,137.50 432.60,142.90 431.30,146.20 419.10,148.70 442.30,151.20 431.30,153.50 418.20,156.40 421.10,158.90 434.60,161.20 415.30,163.70 424.30,166.60 441.10,170.20 446.40,173.60 455.60,176.70 445.80,180.00 440.90,183.40 433.30,186.50 457.80,189.80 444.60,193.00 430.80,197.60 443.00,200.90 444.20,203.80 430.70,207.00 443.00,210.70 430.70,213.90 438.10,216.90 436.90,219.30 434.40,227.90 425.80,235.30 417.70,243.40" fill="none" stroke="#f01010" stroke-width="1.7" stroke-linejoin="miter" stroke-miterlimit="12" stroke-linecap="butt" />
<line x1="422.50" y1="38.50" x2="421.00" y2="50.00" stroke="#000" stroke-width="1.0"/>
<path d="M422.50,38.00 L424.48,41.24 L420.52,41.24Z" fill="#000"/>
<path d="M422.20,40.80 L424.18,44.04 L420.22,44.04Z" fill="#000"/>
<path d="M421.00,43.60 L422.98,46.84 L419.02,46.84Z" fill="#000"/>
<path d="M421.00,45.80 L422.98,49.04 L419.02,49.04Z" fill="#000"/>
<path d="M421.00,47.90 L422.98,51.14 L419.02,51.14Z" fill="#000"/>
<path d="M436.50,50.40 L438.48,53.64 L434.52,53.64Z" fill="#000"/>
<path d="M412.40,59.80 L414.38,63.04 L410.42,63.04Z" fill="#000"/>
<path d="M427.30,69.80 L429.28,73.04 L425.32,73.04Z" fill="#000"/>
<path d="M437.10,79.60 L439.08,82.84 L435.12,82.84Z" fill="#000"/>
<path d="M419.70,88.60 L421.68,91.84 L417.72,91.84Z" fill="#000"/>
<path d="M417.20,96.70 L419.18,99.94 L415.22,99.94Z" fill="#000"/>
<path d="M427.40,101.30 L429.38,104.54 L425.42,104.54Z" fill="#000"/>
<path d="M424.00,105.70 L425.98,108.94 L422.02,108.94Z" fill="#000"/>
<path d="M414.90,110.20 L416.88,113.44 L412.92,113.44Z" fill="#000"/>
<path d="M422.60,114.00 L424.58,117.24 L420.62,117.24Z" fill="#000"/>
<path d="M415.70,117.70 L417.68,120.94 L413.72,120.94Z" fill="#000"/>
<path d="M433.60,119.30 L435.58,122.54 L431.62,122.54Z" fill="#000"/>
<path d="M412.40,121.80 L414.38,125.04 L410.42,125.04Z" fill="#000"/>
<path d="M430.70,123.70 L432.68,126.94 L428.72,126.94Z" fill="#000"/>
<path d="M413.90,126.00 L415.88,129.24 L411.92,129.24Z" fill="#000"/>
<path d="M422.40,128.50 L424.38,131.74 L420.42,131.74Z" fill="#000"/>
<path d="M429.70,135.70 L431.68,138.94 L427.72,138.94Z" fill="#000"/>
<path d="M432.60,141.10 L434.58,144.34 L430.62,144.34Z" fill="#000"/>
<path d="M431.30,144.40 L433.28,147.64 L429.32,147.64Z" fill="#000"/>
<path d="M419.10,146.90 L421.08,150.14 L417.12,150.14Z" fill="#000"/>
<path d="M442.30,149.40 L444.28,152.64 L440.32,152.64Z" fill="#000"/>
<path d="M431.30,151.70 L433.28,154.94 L429.32,154.94Z" fill="#000"/>
<path d="M418.20,154.60 L420.18,157.84 L416.22,157.84Z" fill="#000"/>
<path d="M421.10,157.10 L423.08,160.34 L419.12,160.34Z" fill="#000"/>
<path d="M434.60,159.40 L436.58,162.64 L432.62,162.64Z" fill="#000"/>
<path d="M415.30,161.90 L417.28,165.14 L413.32,165.14Z" fill="#000"/>
<path d="M424.30,164.80 L426.28,168.04 L422.32,168.04Z" fill="#000"/>
<path d="M441.10,168.40 L443.08,171.64 L439.12,171.64Z" fill="#000"/>
<path d="M446.40,171.80 L448.38,175.04 L444.42,175.04Z" fill="#000"/>
<path d="M455.60,174.90 L457.58,178.14 L453.62,178.14Z" fill="#000"/>
<path d="M445.80,178.20 L447.78,181.44 L443.82,181.44Z" fill="#000"/>
<path d="M440.90,181.60 L442.88,184.84 L438.92,184.84Z" fill="#000"/>
<path d="M433.30,184.70 L435.28,187.94 L431.32,187.94Z" fill="#000"/>
<path d="M457.80,188.00 L459.78,191.24 L455.82,191.24Z" fill="#000"/>
<path d="M444.60,191.20 L446.58,194.44 L442.62,194.44Z" fill="#000"/>
<path d="M430.80,195.80 L432.78,199.04 L428.82,199.04Z" fill="#000"/>
<path d="M443.00,199.10 L444.98,202.34 L441.02,202.34Z" fill="#000"/>
<path d="M444.20,202.00 L446.18,205.24 L442.22,205.24Z" fill="#000"/>
<path d="M430.70,205.20 L432.68,208.44 L428.72,208.44Z" fill="#000"/>
<path d="M443.00,208.90 L444.98,212.14 L441.02,212.14Z" fill="#000"/>
<path d="M430.70,212.10 L432.68,215.34 L428.72,215.34Z" fill="#000"/>
<path d="M438.10,215.10 L440.08,218.34 L436.12,218.34Z" fill="#000"/>
<path d="M436.90,217.50 L438.88,220.74 L434.92,220.74Z" fill="#000"/>
<path d="M434.40,226.10 L436.38,229.34 L432.42,229.34Z" fill="#000"/>
<path d="M425.80,233.50 L427.78,236.74 L423.82,236.74Z" fill="#000"/>
<path d="M417.70,241.60 L419.68,244.84 L415.72,244.84Z" fill="#000"/>
<text transform="translate(412.70,82.60) scale(1,1.07)" font-size="11" text-anchor="middle" font-weight="bold" >g</text>
<polyline points="476.70,44.10 476.23,44.73 477.65,45.37 477.50,46.00 477.50,46.75 476.90,47.50 477.50,48.20 477.29,48.80 476.54,49.40 477.00,50.00 477.69,50.62 477.78,51.25 477.18,51.88 477.20,52.50 477.61,53.25 478.00,54.00 477.12,54.75 477.40,55.50 476.56,56.08 477.62,56.65 478.34,57.22 478.40,57.80 478.63,58.83 478.37,59.87 478.02,60.90 476.77,61.93 477.09,62.97 476.70,64.00 477.26,64.88 478.04,65.75 478.21,66.62 479.30,67.50 479.81,68.38 480.98,69.25 481.59,70.12 482.80,71.00 481.90,72.70 482.45,73.87 482.53,75.03 483.70,76.20 482.70,77.09 482.95,77.97 482.11,78.86 481.72,79.74 481.48,80.63 480.53,81.51 480.20,82.40 479.90,83.50 479.89,84.38 481.28,85.26 481.57,86.14 482.17,87.02 482.50,87.90 483.19,88.96 484.14,90.02 483.96,91.08 484.97,92.14 485.20,93.20 485.61,94.37 486.42,95.53 486.90,96.70 487.54,97.78 487.58,98.85 487.75,99.92 488.70,101.00 489.01,102.06 489.64,103.12 489.83,104.18 490.00,105.24 490.40,106.30 490.41,107.36 489.70,108.42 489.53,109.48 489.55,110.54 489.60,111.60 490.63,112.47 490.53,113.35 491.09,114.22 492.20,115.10 491.94,116.20 492.10,117.30 492.61,118.40 493.10,119.50 493.24,120.58 493.58,121.67 493.05,122.75 493.14,123.83 493.10,124.92 493.40,126.00 493.25,127.11 493.90,128.23 493.72,129.34 493.45,130.46 493.36,131.57 494.25,132.69 494.00,133.80 494.59,134.84 495.07,135.88 494.71,136.92 495.41,137.96 495.70,139.00 495.86,140.06 495.13,141.12 495.21,142.18 493.94,143.24 494.00,144.30 494.73,145.36 493.79,146.42 494.38,147.48 494.07,148.54 494.80,149.60 494.96,150.59 494.60,151.57 494.73,152.56 494.32,153.55 494.28,154.54 493.57,155.53 493.90,156.51 493.10,157.50 493.58,158.54 493.28,159.58 494.21,160.62 493.67,161.66 494.00,162.70 493.48,163.73 493.19,164.77 493.51,165.80 493.04,166.83 493.77,167.87 493.10,168.90 493.98,169.94 493.44,170.98 493.64,172.02 494.49,173.06 494.80,174.10 495.33,174.82 496.70,175.55 497.95,176.28 498.50,177.00 497.74,177.93 497.47,178.87 497.58,179.80 496.57,180.73 495.98,181.67 496.17,182.60 495.61,183.53 495.24,184.47 494.30,185.40 494.25,186.39 493.64,187.38 493.69,188.37 493.58,189.36 493.07,190.35 492.31,191.34 492.09,192.33 491.95,193.32 492.11,194.31 491.50,195.30 491.39,196.35 491.21,197.40 491.37,198.45 490.33,199.50 490.78,200.55 490.25,201.60 490.35,202.65 490.10,203.70 489.92,204.52 488.63,205.33 488.89,206.15 487.26,206.97 487.26,207.78 486.65,208.60 485.70,209.42 485.51,210.23 484.81,211.05 484.21,211.87 483.95,212.68 483.10,213.50 482.30,214.51 482.55,215.53 482.84,216.54 481.87,217.56 482.54,218.57 481.54,219.59 481.70,220.60 482.62,221.53 482.71,222.47 483.74,223.40 484.41,224.33 484.70,225.27 485.90,226.20 486.98,227.04 487.56,227.88 488.65,228.72 489.31,229.56 490.10,230.40 489.19,230.82 488.17,231.24 486.92,231.66 486.66,232.08 484.70,232.50 484.67,232.92 483.68,233.34 482.26,233.76 481.61,234.18 480.30,234.60 479.50,234.76 478.41,234.93 477.03,235.09 476.06,235.26 475.08,235.42 474.02,235.59 473.80,235.75 472.05,235.91 471.10,236.08 470.13,236.24 469.60,236.41 468.19,236.57 467.27,236.74 466.20,236.90 464.97,237.27 464.07,237.63 462.91,238.00 462.13,238.37 461.25,238.73 461.02,239.10 459.67,239.47 458.27,239.83 457.80,240.20 457.20,241.04 456.23,241.88 456.20,242.72 455.49,243.56 455.00,244.40 455.55,245.55 454.96,246.70 455.80,247.85 455.50,249.00" fill="none" stroke="#f01010" stroke-width="1.7" stroke-linejoin="miter" stroke-miterlimit="5" stroke-linecap="butt" />
<text transform="translate(471.90,79.50) scale(1,1.07)" font-size="11" text-anchor="middle" font-weight="bold" >h</text>
<line x1="498.00" y1="41.10" x2="531.80" y2="41.10" stroke="#f01010" stroke-width="1.6"/>
<polyline points="498.20,41.60 510.00,42.60 517.80,43.70" fill="none" stroke="#f01010" stroke-width="1.3" stroke-linejoin="round" stroke-miterlimit="4" stroke-linecap="butt" />
<polyline points="517.80,43.70 519.12,44.47 518.90,45.23 520.10,46.00 520.66,46.37 522.97,46.73 523.50,47.10 522.75,48.23 522.31,49.37 522.40,50.50 523.04,51.42 523.13,52.34 524.25,53.26 523.92,54.18 524.70,55.10 525.25,56.23 524.48,57.37 524.70,58.50 525.67,59.38 526.92,60.25 527.47,61.12 528.10,62.00 528.88,63.12 528.90,64.25 528.38,65.38 529.20,66.50 529.90,67.64 529.79,68.78 529.69,69.92 529.79,71.06 530.40,72.20 530.82,73.20 530.50,74.20 530.93,75.20 530.73,76.20 530.95,77.20 530.48,78.20 530.64,79.20 530.40,80.20 530.72,81.35 530.48,82.50 531.50,83.65 530.91,84.80 531.65,85.95 531.50,87.10 531.21,88.07 530.01,89.03 529.00,90.00 528.75,91.05 529.74,92.10 529.73,93.15 529.32,94.20 529.33,95.25 530.09,96.30 529.66,97.35 530.40,98.40 530.56,99.45 529.71,100.50 529.37,101.55 529.00,102.60 529.43,103.49 530.27,104.38 531.11,105.26 530.92,106.15 531.54,107.04 532.32,107.92 532.52,108.81 533.30,109.70 533.75,110.74 534.03,111.78 534.23,112.81 534.86,113.85 535.02,114.89 534.83,115.92 536.26,116.96 536.00,118.00 536.01,119.06 536.29,120.12 536.45,121.19 537.27,122.25 537.48,123.31 537.14,124.38 537.19,125.44 537.50,126.50 537.19,127.56 538.32,128.62 537.63,129.69 538.26,130.75 538.19,131.81 538.34,132.88 538.55,133.94 538.90,135.00 538.78,136.02 538.85,137.04 539.71,138.05 540.27,139.07 540.35,140.09 540.07,141.11 540.91,142.13 540.40,143.15 541.08,144.16 541.84,145.18 541.70,146.20 542.37,147.25 541.98,148.30 542.60,149.35 542.35,150.40 542.54,151.45 542.78,152.50 543.43,153.55 543.00,154.60 543.59,155.72 543.57,156.84 544.17,157.96 544.37,159.08 544.50,160.20 544.14,161.26 544.47,162.32 544.32,163.39 543.88,164.45 544.09,165.51 542.80,166.57 543.19,167.64 543.00,168.70 543.24,169.76 542.97,170.82 542.85,171.88 543.55,172.94 543.40,174.00 543.11,175.06 542.69,176.11 542.21,177.17 543.10,178.23 542.15,179.29 541.66,180.34 541.90,181.40 540.96,182.30 540.41,183.20 540.54,184.10 539.12,185.00 538.90,185.90 538.80,186.90 538.75,187.90 539.36,188.90 539.22,189.90 539.55,190.90 540.18,191.90 540.58,192.90 540.63,193.90 540.40,194.90 540.18,195.89 540.92,196.88 541.82,197.87 541.17,198.86 541.71,199.84 542.39,200.83 542.59,201.82 543.37,202.81 543.40,203.80 543.41,204.80 542.86,205.80 542.35,206.80 542.08,207.80 541.87,208.80 541.90,209.80 540.95,210.86 541.24,211.91 540.20,212.97 540.65,214.03 539.93,215.09 538.80,216.14 538.90,217.20 538.40,218.20 538.02,219.20 537.40,220.20 536.10,220.95 535.88,221.70 534.59,222.45 534.72,223.20 533.05,223.95 532.90,224.70 532.42,225.56 532.20,226.41 531.39,227.27 530.01,228.13 529.73,228.99 528.61,229.84 528.40,230.70 527.47,231.44 527.36,232.17 526.57,232.91 524.86,233.65 524.57,234.39 524.14,235.12 522.85,235.86 522.50,236.60" fill="none" stroke="#f01010" stroke-width="1.7" stroke-linejoin="miter" stroke-miterlimit="6" stroke-linecap="butt" />
<text transform="translate(536.20,70.80) scale(1,1.07)" font-size="11" text-anchor="middle" font-weight="bold" >i</text>
<text transform="translate(523.5,144) rotate(-90)" font-size="10.3" font-weight="bold" text-anchor="middle">Temperature Stack (90 to 30N)</text>
</svg>
</body></html>
